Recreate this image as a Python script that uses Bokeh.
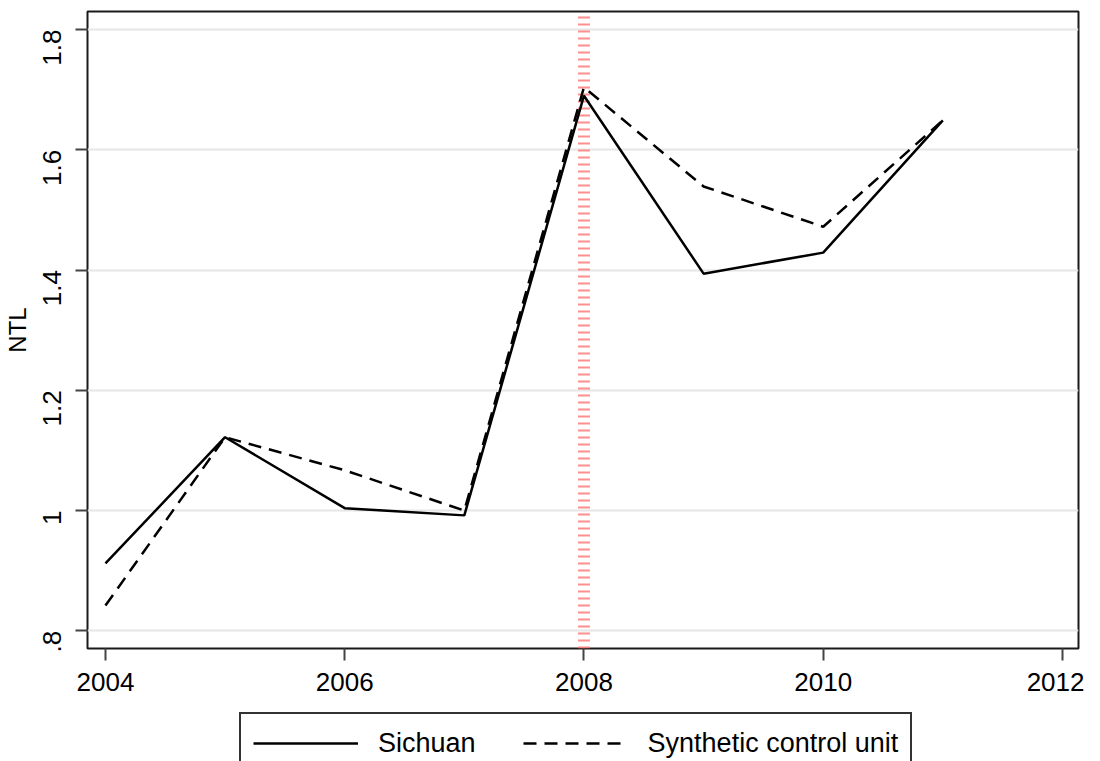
from bokeh.plotting import figure
from bokeh.layouts import column
from bokeh.models import FixedTicker, Legend, LegendItem
from bokeh.embed import file_html
from bokeh.resources import INLINE

years = [2004, 2005, 2006, 2007, 2008, 2009, 2010, 2011]
sichuan = [0.912, 1.122, 1.004, 0.992, 1.690, 1.394, 1.429, 1.649]
synthetic = [0.842, 1.122, 1.067, 1.000, 1.704, 1.539, 1.472, 1.649]
treatment_year = 2008
x_ticks = [2004, 2006, 2008, 2010, 2012]
y_ticks = [0.8, 1.0, 1.2, 1.4, 1.6, 1.8]
y_tick_labels = [".8", "1", "1.2", "1.4", "1.6", "1.8"]
series_names = ["Sichuan", "Synthetic control unit"]

FONT = "Liberation Sans"
y_lo, y_hi = 0.7706, 1.830
W = 1084

p = figure(width=W, height=701, output_backend="svg", toolbar_location=None,
           x_range=(2003.85, 2012.134), y_range=(y_lo, y_hi),
           min_border_left=86, min_border_right=6, min_border_top=11, min_border_bottom=53)
p.background_fill_color = "white"
p.border_fill_color = "white"
p.outline_line_color = "#1a1a1a"
p.outline_line_width = 2

# grid
p.xgrid.grid_line_color = None
p.ygrid.grid_line_color = "#e6e6e6"
p.ygrid.grid_line_width = 2

# axes
p.xaxis.ticker = FixedTicker(ticks=x_ticks)
p.yaxis.ticker = FixedTicker(ticks=y_ticks)
p.yaxis.major_label_overrides = {t: l for t, l in zip(y_ticks, y_tick_labels)}
for ax in (p.xaxis[0], p.yaxis[0]):
    ax.axis_line_color = None
    ax.major_tick_in = 0
    ax.major_tick_out = 12
    ax.major_tick_line_color = "#444444"
    ax.major_tick_line_width = 2
    ax.minor_tick_line_color = None
    ax.major_label_text_font = FONT
    ax.major_label_text_font_size = "26px"
    ax.major_label_text_color = "black"
    ax.axis_label_text_font = FONT
    ax.axis_label_text_font_style = "normal"
    ax.axis_label_text_color = "black"
p.xaxis.major_label_standoff = 12
p.yaxis.major_label_standoff = 23
p.yaxis.major_label_orientation = 3.14159265 / 2
p.yaxis.axis_label = "NTL"
p.yaxis.axis_label_text_font_size = "24px"
p.yaxis.axis_label_standoff = 1

# treatment line
p.segment(x0=[treatment_year], y0=[y_lo], x1=[treatment_year], y1=[y_hi],
          line_color="#ff7a7a", line_alpha=0.85, line_width=12, line_dash="2 5")

p.line(years, sichuan, line_color="black", line_width=2.5)
p.line(years, synthetic, line_color="black", line_width=2.5, line_dash="13 8")

# legend strip below the plot (its frame aligns with the plot frame)
lg = figure(width=W, height=60, output_backend="svg", toolbar_location=None,
            x_axis_type=None, y_axis_type=None, x_range=(0, 1), y_range=(0, 1),
            min_border_left=0, min_border_right=0, min_border_top=0, min_border_bottom=0)
lg.outline_line_color = None
lg.xgrid.grid_line_color = None
lg.ygrid.grid_line_color = None
# legend-only renderers: data lie outside this strip's ranges, so only the legend glyphs show
g1 = lg.line(years, sichuan, line_color="black", line_width=2.5)
g2 = lg.line(years, synthetic, line_color="black", line_width=2.5, line_dash="13 8")

legend = Legend(items=[LegendItem(label=series_names[0], renderers=[g1]),
                       LegendItem(label=series_names[1], renderers=[g2])],
                orientation="horizontal", location=(152, -13))
legend.label_text_font = FONT
legend.label_text_font_size = "27px"
legend.label_text_color = "black"
legend.glyph_width = 105
legend.glyph_height = 34
legend.label_height = 34
legend.label_standoff = 20
legend.spacing = 47
legend.padding = 12
legend.margin = 0
legend.border_line_color = "#333333"
legend.border_line_width = 2
legend.border_line_alpha = 1
legend.background_fill_alpha = 1
lg.add_layout(legend, "center")

layout = column(p, lg, spacing=0)
open("out.html", "w").write(file_html(layout, INLINE))
